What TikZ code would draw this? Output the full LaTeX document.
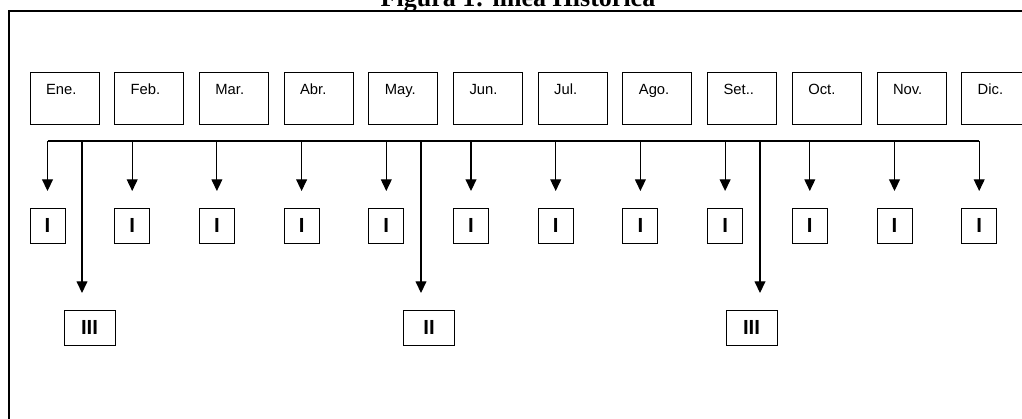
\documentclass[tikz,border=0pt]{standalone}
\usepackage{fontspec}
\setmainfont{Liberation Serif}
\newfontfamily\arialfont{Liberation Sans}
\usetikzlibrary{arrows.meta, positioning}

\begin{document}
\begin{tikzpicture}[
    x=0.025cm, y=-0.025cm,
    month/.style={draw, line width=0.7pt, inner xsep=0.4cm, inner ysep=0pt, text width=0.925cm, align=left, minimum height=1.3cm, text height=0.28cm, text depth=0.48cm, font=\arialfont\fontsize{10.5}{12}\selectfont, outer sep=0pt, anchor=north west},
    ibox/.style={draw, line width=0.7pt, minimum size=0.875cm, inner sep=0pt, outer sep=0pt, font=\arialfont\bfseries\fontsize{14.5}{16}\selectfont},
    lbox/.style={ibox, minimum width=1.275cm},
    bus/.style={line width=0.9pt},
    arr/.style={-{Triangle[width=0.27cm, length=0.29cm]}, line width=0.8pt, shorten >=0.425cm},
]
\useasboundingbox (0,0) rectangle (1022,419);

% marco y titulo
\draw[line width=1.2pt] (9,11) rectangle (1060,460);
\node[anchor=base, font=\bfseries\fontsize{18.5}{20}\selectfont] (titulo) at (518,6.5) {Figura 1: línea Histórica};

% linea de tiempo
\coordinate (busL) at (48,141);
\coordinate (busR) at (979,141);
\draw[bus] (busL) -- (busR);

\foreach \m [count=\i] in {Ene.,Feb.,Mar.,Abr.,May.,Jun.,Jul.,Ago.,Set..,Oct.,Nov.,Dic.} {
    \node[month] (m\i) at ({30+84.7*(\i-1)},72) {\m};
    \node[ibox, below=2.1cm of m\i.south west, anchor=north west] (i\i) {I};
    \draw[arr] (i\i.north |- busL) -- (i\i.north);
}

% periodos largos
\node[lbox] (iii1) at (89.5,327.5) {III};
\node[lbox] (ii) at (429,327.5) {II};
\node[lbox] (iii2) at (751.5,327.5) {III};

\coordinate (t1) at (82,141);
\coordinate (t2) at (421,141);
\coordinate (t3) at (760,141);
\draw[arr] (t1) -- (t1 |- iii1.north);
\draw[arr] (t2) -- (t2 |- ii.north);
\draw[arr] (t3) -- (t3 |- iii2.north);

\end{tikzpicture}
\end{document}
